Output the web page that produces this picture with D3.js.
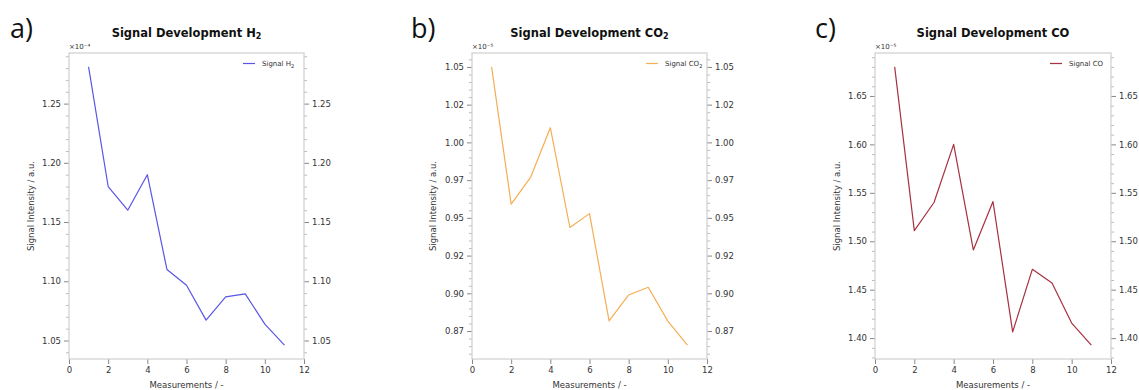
<!DOCTYPE html>
<html><head><meta charset="utf-8">
<script src="https://cdn.jsdelivr.net/npm/d3@7"></script>
<style>body{margin:0;background:#fff}svg{display:block}</style>
</head><body>
<svg id="chart" width="1139" height="390"></svg>
<script>
const measurements = [1,2,3,4,5,6,7,8,9,10,11];
const h2Values = [1.281,1.180,1.160,1.190,1.110,1.0966,1.0672,1.0868,1.0893,1.0638,1.0461];
const co2Values = [1.050,0.9591,0.977,1.0097,0.9436,0.9528,0.8818,0.8989,0.904,0.8816,0.8657];
const coValues = [1.680,1.511,1.540,1.600,1.491,1.541,1.4065,1.471,1.457,1.4155,1.3928];
const xTicks = [0,2,4,6,8,10,12];
const h2Ticks = [1.05,1.10,1.15,1.20,1.25];
const h2TickLabels = ["1.05","1.10","1.15","1.20","1.25"];
const co2Ticks = [0.875,0.900,0.925,0.950,0.975,1.000,1.025,1.050];
const co2TickLabels = ["0.87","0.90","0.92","0.95","0.97","1.00","1.02","1.05"];
const coTicks = [1.40,1.45,1.50,1.55,1.60,1.65];
const coTickLabels = ["1.40","1.45","1.50","1.55","1.60","1.65"];

const panels = [
  {label:"a)", title:["Signal Development H","₂"], legend:["Signal H","₂"], offset:"×10⁻⁴",
   values:h2Values, ticks:h2Ticks, tickLabels:h2TickLabels, minorStep:0.01, color:"#5a55e6",
   x0:69, x1:304, labelX:10, ylabX:31},
  {label:"b)", title:["Signal Development CO","₂"], legend:["Signal CO","₂"], offset:"×10⁻⁵",
   values:co2Values, ticks:co2Ticks, tickLabels:co2TickLabels, minorStep:0.005, color:"#f6ad55",
   x0:472, x1:707, labelX:411, ylabX:433},
  {label:"c)", title:["Signal Development CO",""], legend:["Signal CO",""], offset:"×10⁻⁵",
   values:coValues, ticks:coTicks, tickLabels:coTickLabels, minorStep:0.01, color:"#a8303f",
   x0:875, x1:1111, labelX:815, ylabX:837}
];

const svg = d3.select("#chart");
const top0 = 53, bot = 359;
const txt = "#333";
const spine = "#cfcfcf";

panels.forEach(p => {
  const g = svg.append("g");
  const x = d3.scaleLinear().domain([0,12]).range([p.x0,p.x1]);
  const [lo,hi] = d3.extent(p.values);
  const m = (hi-lo)*0.05;
  const y = d3.scaleLinear().domain([lo-m,hi+m]).range([bot,top0]);

  // panel label
  g.append("text").attr("x",p.labelX).attr("y",38).attr("font-family","Open Sans, sans-serif")
    .attr("font-size",27).attr("fill","#111").text(p.label);

  // title
  const t = g.append("text").attr("x",(p.x0+p.x1)/2).attr("y",37).attr("text-anchor","middle")
    .attr("font-family","DejaVu Sans, sans-serif").attr("font-weight","bold").attr("font-size",11.5).attr("fill","#111");
  t.append("tspan").text(p.title[0]);
  if (p.title[1]) t.append("tspan").attr("font-size",8).attr("dy",2).text("2");

  // offset text
  g.append("text").attr("x",p.x0).attr("y",49).attr("font-family","DejaVu Sans, sans-serif")
    .attr("font-size",7).attr("fill",txt).text(p.offset);

  // minor ticks
  const [d0,d1] = y.domain();
  const minors = d3.range(Math.ceil(d0/p.minorStep-1e-6), Math.floor(d1/p.minorStep+1e-6)+1)
     .map(k=>k*p.minorStep).filter(v=>!p.ticks.some(t=>Math.abs(t-v)<1e-9));
  const minorAxL = d3.axisLeft(y).tickValues(minors).tickSize(3).tickFormat("");
  const minorAxR = d3.axisRight(y).tickValues(minors).tickSize(3).tickFormat("");
  [[minorAxL,p.x0],[minorAxR,p.x1]].forEach(([ax,xx])=>{
    const a = g.append("g").attr("transform",`translate(${xx},0)`).call(ax);
    a.select(".domain").remove();
    a.selectAll("line").attr("stroke","#bbb");
  });

  // major y axes
  const fmt = d => p.tickLabels[p.ticks.indexOf(d)];
  const axL = d3.axisLeft(y).tickValues(p.ticks).tickSize(5).tickPadding(3).tickFormat(fmt);
  const axR = d3.axisRight(y).tickValues(p.ticks).tickSize(5).tickPadding(3).tickFormat(fmt);
  [[axL,p.x0],[axR,p.x1]].forEach(([ax,xx])=>{
    const a = g.append("g").attr("transform",`translate(${xx},0)`).call(ax);
    a.select(".domain").remove();
    a.selectAll("line").attr("stroke","#888");
    a.selectAll("text").attr("font-family","DejaVu Sans, sans-serif").attr("font-size",8.5).attr("fill",txt);
  });

  // x axis
  const axB = d3.axisBottom(x).tickValues(xTicks).tickSize(5).tickPadding(3).tickFormat(d3.format("d"));
  const ab = g.append("g").attr("transform",`translate(0,${bot})`).call(axB);
  ab.select(".domain").remove();
  ab.selectAll("line").attr("stroke","#888");
  ab.selectAll("text").attr("font-family","DejaVu Sans, sans-serif").attr("font-size",8.5).attr("fill",txt);

  // spines
  g.append("rect").attr("x",p.x0).attr("y",top0).attr("width",p.x1-p.x0).attr("height",bot-top0)
    .attr("fill","none").attr("stroke",spine).attr("stroke-width",1.2);

  // axis labels
  g.append("text").attr("x",(p.x0+p.x1)/2).attr("y",388).attr("text-anchor","middle")
    .attr("font-family","DejaVu Sans, sans-serif").attr("font-size",8.5).attr("fill",txt).text("Measurements / -");
  g.append("text").attr("transform",`translate(${p.ylabX},${(top0+bot)/2}) rotate(-90)`)
    .attr("text-anchor","middle").attr("dy","0.35em")
    .attr("font-family","DejaVu Sans, sans-serif").attr("font-size",8.5).attr("fill",txt).text("Signal Intensity / a.u.");

  // line
  const line = d3.line().x((d,i)=>x(measurements[i])).y(d=>y(d));
  g.append("path").datum(p.values).attr("d",line).attr("fill","none")
    .attr("stroke",p.color).attr("stroke-width",1.2).attr("stroke-linejoin","round");

  // legend
  const lx = p.x1 - 61;
  g.append("line").attr("x1",lx).attr("x2",lx+12).attr("y1",63.5).attr("y2",63.5)
    .attr("stroke",p.color).attr("stroke-width",1.2);
  const lt = g.append("text").attr("x",lx+19).attr("y",66).attr("font-family","DejaVu Sans, sans-serif")
    .attr("font-size",7).attr("fill",txt);
  lt.append("tspan").text(p.legend[0]);
  if (p.legend[1]) lt.append("tspan").attr("font-size",5).attr("dy",1.5).text("2");
});
</script>
</body></html>
